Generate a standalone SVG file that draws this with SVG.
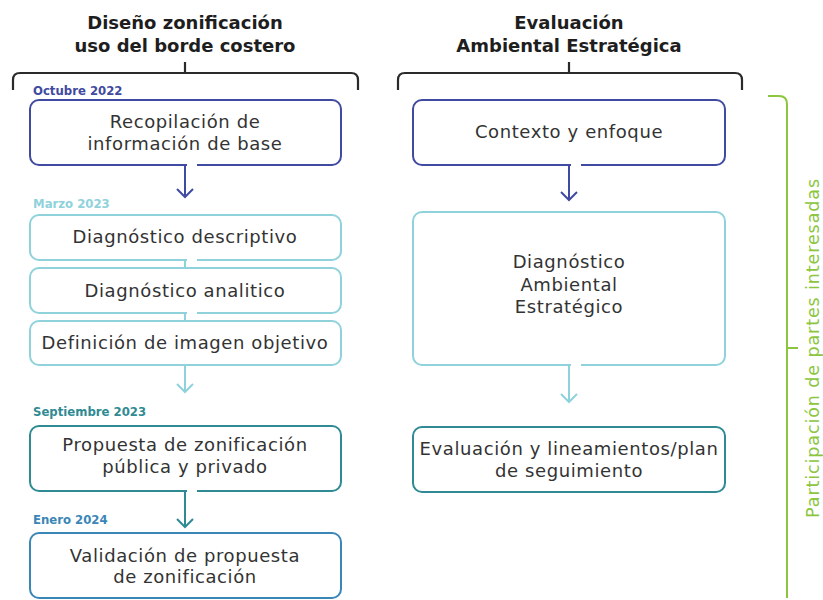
<svg xmlns="http://www.w3.org/2000/svg" width="823" height="600" viewBox="0 0 823 600">
<style>
.title{font-family:"DejaVu Sans","Liberation Sans",sans-serif;font-weight:bold;font-size:18px;fill:#1e1e1e;text-anchor:middle}
.body{font-family:"DejaVu Sans","Liberation Sans",sans-serif;font-size:18px;letter-spacing:0.6px;fill:#333;text-anchor:middle}
.date{font-family:"DejaVu Sans","Liberation Sans",sans-serif;font-weight:bold;font-size:11.7px}
.box{fill:#fff;stroke-width:2}
.c1{stroke:#3f4aa0}
.c2{stroke:#8fd2dc}
.c3{stroke:#2f8a94}
.c4{stroke:#3a86b6}
.br{fill:none;stroke:#2a2a2a;stroke-width:2.2}
.gr{fill:none;stroke:#8cc63f;stroke-width:2}
.ln{fill:none;stroke-width:2}
.gap{fill:none;stroke:#fff;stroke-width:3}
</style>
<rect width="823" height="600" fill="#fff"/>
<g id="headers">
<text class="title" x="185" y="29">Diseño zonificación</text>
<text class="title" x="185" y="52">uso del borde costero</text>
<path class="br" d="M13,90 V80 Q13,73 20,73 H351 Q358,73 358,80 V90 M185,73 V62"/>
<text class="title" x="569" y="29">Evaluación</text>
<text class="title" x="569" y="52">Ambiental Estratégica</text>
<path class="br" d="M398,90 V80 Q398,73 405,73 H735 Q742,73 742,80 V90 M569,73 V62"/>
</g>
<g id="participacion">
<path class="gr" d="M768,96 H779 Q787,96 787,104 V598 M787,348 H798"/>
<text transform="translate(819,348) rotate(-90)" style="font-family:'DejaVu Sans','Liberation Sans',sans-serif;font-size:17.5px;letter-spacing:0.9px;fill:#8cc63f;text-anchor:middle">Participación de partes interesadas</text>
</g>
<g id="dates">
<text class="date" x="33" y="95" fill="#3f4aa0">Octubre 2022</text>
<text class="date" x="33" y="208" fill="#8fd2dc">Marzo 2023</text>
<text class="date" x="33" y="416" fill="#2f8a94">Septiembre 2023</text>
<text class="date" x="33" y="524" fill="#3a86b6">Enero 2024</text>
</g>
<g id="recopilacion">
<rect class="box c1" x="30" y="100" width="311" height="65" rx="9"/>
<text class="body" x="185" y="128">Recopilación de</text>
<text class="body" x="185" y="150">información de base</text>
</g>
<g id="diag-descriptivo">
<rect class="box c2" x="30" y="215" width="311" height="45" rx="9"/>
<text class="body" x="185" y="243">Diagnóstico descriptivo</text>
</g>
<g id="diag-analitico">
<rect class="box c2" x="30" y="268" width="311" height="45" rx="9"/>
<text class="body" x="185" y="297">Diagnóstico analitico</text>
</g>
<g id="imagen-objetivo">
<rect class="box c2" x="30" y="321" width="311" height="44" rx="9"/>
<text class="body" x="185" y="349">Definición de imagen objetivo</text>
</g>
<g id="propuesta">
<rect class="box c3" x="30" y="426" width="311" height="65" rx="9"/>
<text class="body" x="185" y="451">Propuesta de zonificación</text>
<text class="body" x="185" y="473">pública y privado</text>
</g>
<g id="validacion">
<rect class="box c4" x="30" y="533" width="311" height="65" rx="9"/>
<text class="body" x="185" y="562">Validación de propuesta</text>
<text class="body" x="185" y="583">de zonificación</text>
</g>
<g id="contexto">
<rect class="box c1" x="413" y="100" width="312" height="65" rx="9"/>
<text class="body" x="569" y="138">Contexto y enfoque</text>
</g>
<g id="diag-ambiental">
<rect class="box c2" x="413" y="212" width="312" height="153" rx="9"/>
<text class="body" x="569" y="268">Diagnóstico</text>
<text class="body" x="569" y="291">Ambiental</text>
<text class="body" x="569" y="313">Estratégico</text>
</g>
<g id="evaluacion">
<rect class="box c3" x="413" y="427" width="312" height="65" rx="9"/>
<text class="body" x="569" y="455">Evaluación y lineamientos/plan</text>
<text class="body" x="569" y="477">de seguimiento</text>
</g>
<g id="connectors">
<path class="gap" d="M187,165 H197 M187,260 H197 M187,313 H197 M187,491 H197 M571,165 H581 M571,365 H581"/>
<path class="ln c1" d="M185,165 V197 M177,189 L185,197 L193,189"/>
<path class="ln c2" d="M185,260 V268 M185,313 V321 M185,365 V392 M177,384 L185,392 L193,384"/>
<path class="ln c3" d="M185,491 V527 M177,519 L185,527 L193,519"/>
<path class="ln c1" d="M569,165 V200 M561,192 L569,200 L577,192"/>
<path class="ln c2" d="M569,365 V402 M561,394 L569,402 L577,394"/>
</g>
</svg>
